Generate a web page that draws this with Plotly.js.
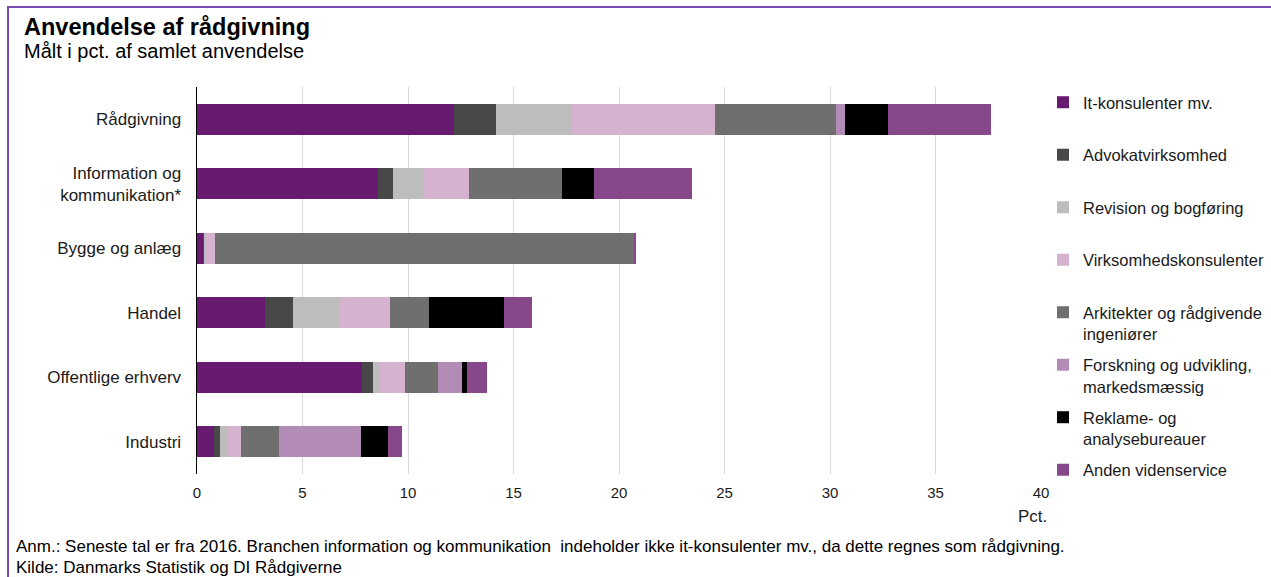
<!DOCTYPE html>
<html>
<head>
<meta charset="utf-8">
<script src="https://cdn.plot.ly/plotly-3.0.1.min.js"></script>
<style>
  html, body { margin: 0; padding: 0; background: #fff; }
  #wrap { position: relative; width: 1271px; height: 577px; overflow: hidden; }
  #chart { width: 1271px; height: 577px; }
  #frame { position: absolute; left: 7px; top: 6px; width: 1300px; height: 600px;
           border-left: 2px solid #7b4bb3; border-top: 2px solid #7b4bb3; pointer-events: none; }
</style>
</head>
<body>
<div id="wrap">
  <div id="chart"></div>
  <div id="frame"></div>
</div>
<script>
// Categories, top to bottom
const categories = ["Rådgivning", "Information og<br>kommunikation*", "Bygge og anlæg", "Handel", "Offentlige erhverv", "Industri"];

// Series (pct. of total use), in category order
const seriesNames = [
  "It-konsulenter mv.",
  "Advokatvirksomhed",
  "Revision og bogføring",
  "Virksomhedskonsulenter",
  "Arkitekter og rådgivende<br>ingeniører",
  "Forskning og udvikling,<br>markedsmæssig",
  "Reklame- og<br>analysebureauer",
  "Anden videnservice"
];
const itKonsulenter   = [12.2, 8.6, 0.27, 3.2, 7.8, 0.8];
const advokat         = [1.95, 0.7, 0.05, 1.35, 0.55, 0.3];
const revision        = [3.6, 1.4, 0.1, 2.2, 0.3, 0.35];
const virksomhedskons = [6.8, 2.2, 0.45, 2.4, 1.2, 0.65];
const arkitekter      = [5.75, 4.4, 19.85, 1.85, 1.55, 1.8];
const forskning       = [0.4, 0, 0, 0, 1.15, 3.85];
const reklame         = [2.05, 1.5, 0, 3.55, 0.25, 1.3];
const anden           = [4.9, 4.65, 0.08, 1.35, 0.95, 0.65];
const seriesValues = [itKonsulenter, advokat, revision, virksomhedskons, arkitekter, forskning, reklame, anden];
const seriesColors = ["#681a70", "#484848", "#bdbdbd", "#d5b3cf", "#6f6f6f", "#b38bb7", "#000000", "#86478b"];

const xTickVals = [0, 5, 10, 15, 20, 25, 30, 35, 40];

const FONT = "Liberation Sans, Arial, sans-serif";
const TXT = "#1a1a1a";

// every legend entry takes two lines so the entries are evenly spaced
const legendLabel = n => n.indexOf("<br>") >= 0 ? n : n + "<br>\u00A0";

const traces = seriesNames.map((name, i) => ({
  type: "bar",
  orientation: "h",
  name: legendLabel(name),
  y: categories,
  x: seriesValues[i],
  marker: { color: seriesColors[i], line: { width: 0 } },
  legendgroup: "g" + i,
  hoverinfo: "x+name"
}));

// pixel helpers for plot area: l=197, r=230, t=87, b=103
const L = 197, T = 87, W = 844, H = 387;
const px = x => (x - L) / W;
const py = y => (T + H - y) / H;

const layout = {
  width: 1271, height: 577,
  margin: { l: L, r: 1271 - L - W, t: T, b: 577 - T - H, pad: 0, autoexpand: false },
  paper_bgcolor: "#fff", plot_bgcolor: "#fff",
  font: { family: FONT, color: TXT, size: 15 },
  barmode: "stack",
  bargap: 0.52,
  title: {
    text: "<b>Anvendelse af rådgivning</b>",
    font: { family: FONT, size: 23.5, color: "#000" },
    xref: "container", x: 24 / 1271, xanchor: "left",
    yref: "container", y: 1 - 27 / 577, yanchor: "middle"
  },
  xaxis: {
    range: [0, 40],
    tickvals: xTickVals,
    ticktext: xTickVals.map(String),
    showgrid: true, gridcolor: "#d9d9d9", gridwidth: 1,
    zeroline: false, showline: false,
    ticks: "", ticklabelstandoff: 8,
    tickfont: { family: FONT, size: 15, color: TXT },
    fixedrange: true
  },
  yaxis: {
    type: "category",
    categoryorder: "array", categoryarray: categories,
    autorange: "reversed",
    showgrid: false, zeroline: false,
    showline: true, linecolor: "#000", linewidth: 1.5,
    ticks: "", ticklabelstandoff: 11,
    tickfont: { family: FONT, size: 17, color: TXT },
    fixedrange: true
  },
  legend: {
    x: 1 + (1043 - 1041) / W, xanchor: "left",
    y: py(85), yanchor: "top",
    maxheight: 500,
    traceorder: "grouped",
    tracegroupgap: 6.6,
    valign: "top",
    font: { family: FONT, size: 16.5, color: TXT },
    bgcolor: "rgba(0,0,0,0)"
  },
  annotations: [
    { text: "Målt i pct. af samlet anvendelse", xref: "paper", yref: "paper",
      x: px(22), y: py(51), xanchor: "left", yanchor: "middle", showarrow: false,
      font: { family: FONT, size: 20, color: "#000" } },
    { text: "Pct.", xref: "paper", yref: "paper",
      x: px(1032), y: py(516), xanchor: "center", yanchor: "middle", showarrow: false,
      font: { family: FONT, size: 17, color: TXT } },
    { text: "Anm.: Seneste tal er fra 2016. Branchen information og kommunikation  indeholder ikke it-konsulenter mv., da dette regnes som rådgivning.",
      xref: "paper", yref: "paper",
      x: px(14), y: py(546), xanchor: "left", yanchor: "middle", showarrow: false,
      font: { family: FONT, size: 17, color: "#000" } },
    { text: "Kilde: Danmarks Statistik og DI Rådgiverne",
      xref: "paper", yref: "paper",
      x: px(14), y: py(567), xanchor: "left", yanchor: "middle", showarrow: false,
      font: { family: FONT, size: 17, color: "#000" } }
  ],
  showlegend: true
};

Plotly.newPlot("chart", traces, layout, { staticPlot: true, displayModeBar: false });
</script>
</body>
</html>
